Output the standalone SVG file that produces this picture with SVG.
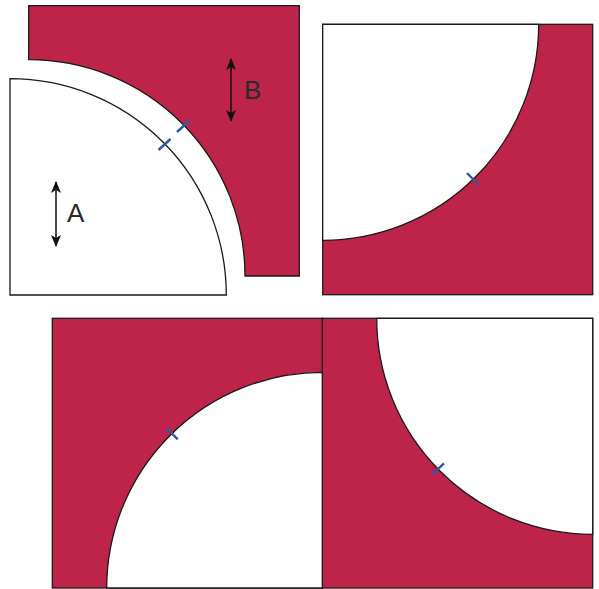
<svg xmlns="http://www.w3.org/2000/svg" width="599" height="589" viewBox="0 0 599 589">
<style>
.red{fill:#be2449;stroke:#1a1a1a;stroke-width:1.3}
.white{fill:#ffffff;stroke:#1a1a1a;stroke-width:1.3}
.tick{stroke:#2b5aa6;stroke-width:2.4;fill:none}
.arr{stroke:#111;stroke-width:1.5;fill:none;marker-start:url(#ah);marker-end:url(#ah)}
.lbl{font-family:"Liberation Sans",Arial,sans-serif;font-size:26px;fill:#2a2a2a}
</style>
<defs>
<marker id="ah" viewBox="0 0 12 10" refX="11" refY="5" markerWidth="12" markerHeight="10" markerUnits="userSpaceOnUse" orient="auto-start-reverse">
<path d="M0,0 L12,5 L0,10 L3,5 Z" fill="#111"/>
</marker>
</defs>
<g id="pieceB">
<path class="red" d="M28.7,5.7 H299.3 V276 H245 A216.3,216.3 0 0 0 28.7,59.7 Z"/>
<line class="tick" x1="177" y1="132" x2="189" y2="121"/>
<line class="arr" x1="231" y1="59" x2="231" y2="121"/>
<text class="lbl" x="244" y="99">B</text>
</g>
<g id="pieceA">
<path class="white" d="M10,78.7 A216.3,216.3 0 0 1 226.3,295 H10 Z"/>
<line class="tick" x1="158.5" y1="150" x2="170.5" y2="139"/>
<line class="arr" x1="56" y1="182" x2="56" y2="246"/>
<text class="lbl" x="67" y="222">A</text>
</g>
<g id="blockTR">
<rect class="red" x="322.7" y="24.3" width="270" height="270.4"/>
<path class="white" d="M322.7,24.3 H538.7 A216,216 0 0 1 322.7,240.3 Z"/>
<line class="tick" x1="467" y1="173" x2="478.7" y2="185"/>
</g>
<g id="blockBL">
<rect class="red" x="52.3" y="318.3" width="270.4" height="269.7"/>
<path class="white" d="M106.7,588 A216,216 0 0 1 322.7,372.3 V588 Z"/>
<line class="tick" x1="166.7" y1="428.3" x2="177.7" y2="439.3"/>
</g>
<g id="blockBR">
<rect class="red" x="322.3" y="318.3" width="270.4" height="269.7"/>
<path class="white" d="M376.7,318.3 A216,216 0 0 0 592.7,534.3 V318.3 Z"/>
<line class="tick" x1="432.7" y1="474" x2="444" y2="463.3"/>
</g>
<g id="connectors"></g>
</svg>
